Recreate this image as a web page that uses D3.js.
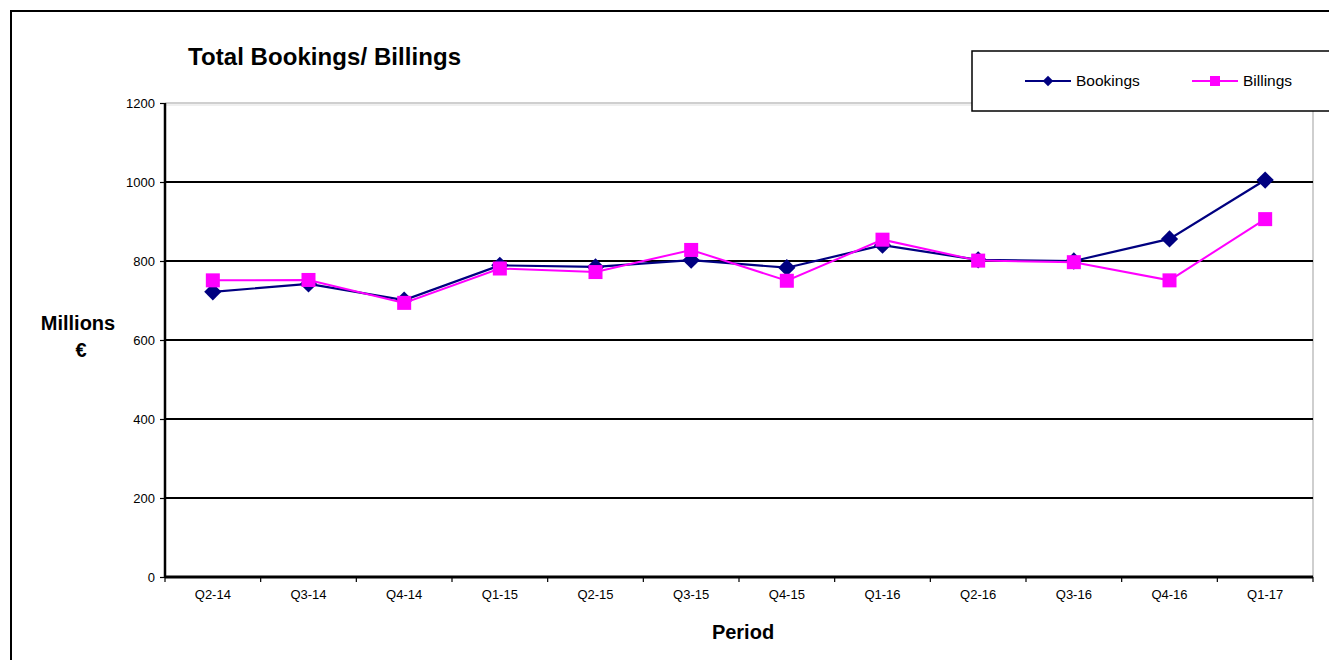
<!DOCTYPE html>
<html>
<head>
<meta charset="utf-8">
<script src="https://cdn.jsdelivr.net/npm/d3@7"></script>
<style>
  body { margin: 0; background: #fff; }
  text { font-family: "Liberation Sans", Arial, sans-serif; }
</style>
</head>
<body>
<script>
// data
var periods = ['Q2-14', 'Q3-14', 'Q4-14', 'Q1-15', 'Q2-15', 'Q3-15', 'Q4-15', 'Q1-16', 'Q2-16', 'Q3-16', 'Q4-16', 'Q1-17']
var bookings = [722, 742, 701, 789, 785, 802, 783, 840, 803, 800, 856, 1005]
var billings = [751, 752, 694, 781, 772, 828, 750, 854, 801, 797, 751, 906]
var yTicks = [0, 200, 400, 600, 800, 1000, 1200]

var W = 1329, H = 660
var margin = { top: 103, right: 16, bottom: 83, left: 165 }
var width = W - margin.left - margin.right,
  height = H - margin.top - margin.bottom

var svg = d3.select('body').append('svg')
  .attr('width', W)
  .attr('height', H)

// outer frame
svg.append('path')
  .attr('d', 'M11,' + H + 'V11H' + W)
  .attr('fill', 'none')
  .attr('stroke', '#000')
  .attr('stroke-width', 2)

var x = d3.scaleBand().domain(periods).range([0, width])
var y = d3.scaleLinear().domain([0, 1200]).range([height, 0])

var g = svg.append('g')
  .attr('transform', 'translate(' + margin.left + ',' + margin.top + ')')

// plot area border (grey top + right)
g.append('path')
  .attr('d', 'M0,0H' + width + 'V' + height)
  .attr('fill', 'none')
  .attr('stroke', '#c0c0c0')
  .attr('stroke-width', 1.5)
g.append('line')
  .attr('x1', 0).attr('x2', width)
  .attr('y1', 2).attr('y2', 2)
  .attr('stroke', '#e0e0e0')

// gridlines
g.selectAll('.grid')
  .data(yTicks.filter(function(d) { return d > 0 && d < 1200 }))
  .enter().append('line')
  .attr('class', 'grid')
  .attr('x1', 0).attr('x2', width)
  .attr('y1', d => y(d)).attr('y2', d => y(d))
  .attr('stroke', '#000')
  .attr('stroke-width', 2)

// y axis
var yAxis = g.append('g')
  .call(d3.axisLeft(y).tickValues(yTicks).tickFormat(d3.format('d')).tickSize(5).tickPadding(5))
yAxis.select('.domain').remove()
yAxis.selectAll('text').attr('fill', '#000')
  .style('font-size', '13px')
  .style('font-family', '"Liberation Sans", Arial, sans-serif')
yAxis.selectAll('line').attr('stroke-width', 1.2)
g.append('line')
  .attr('x1', 0).attr('x2', 0).attr('y1', 0).attr('y2', height)
  .attr('stroke', '#000').attr('stroke-width', 2.5)

// x axis
var xAxis = g.append('g')
  .attr('transform', 'translate(0,' + height + ')')
  .call(d3.axisBottom(x).tickSize(0).tickPadding(13))
xAxis.select('.domain').remove()
xAxis.selectAll('text').attr('fill', '#000')
  .style('font-size', '13px')
  .style('font-family', '"Liberation Sans", Arial, sans-serif')
g.selectAll('.xtick')
  .data(periods.concat(['end']))
  .enter().append('line')
  .attr('class', 'xtick')
  .attr('x1', (d, i) => i * x.step()).attr('x2', (d, i) => i * x.step())
  .attr('y1', height).attr('y2', height + 5)
  .attr('stroke', '#000').attr('stroke-width', 1.2)
g.append('line')
  .attr('x1', 0).attr('x2', width).attr('y1', height).attr('y2', height)
  .attr('stroke', '#000').attr('stroke-width', 3)

var cx = function(d, i) { return x(periods[i]) + x.bandwidth() / 2 }
var line = d3.line().x(cx).y(d => y(d))

// bookings
g.append('path').datum(bookings)
  .attr('d', line)
  .attr('fill', 'none')
  .attr('stroke', '#000080')
  .attr('stroke-width', 2.2)
g.selectAll('.bk')
  .data(bookings).enter().append('path')
  .attr('class', 'bk')
  .attr('d', d3.symbol().type(d3.symbolDiamond2).size(190))
  .attr('transform', (d, i) => 'translate(' + cx(d, i) + ',' + y(d) + ')')
  .attr('fill', '#000080')

// billings
g.append('path').datum(billings)
  .attr('d', line)
  .attr('fill', 'none')
  .attr('stroke', '#ff00ff')
  .attr('stroke-width', 2)
g.selectAll('.bl')
  .data(billings).enter().append('rect')
  .attr('class', 'bl')
  .attr('x', (d, i) => cx(d, i) - 7)
  .attr('y', d => y(d) - 7)
  .attr('width', 14).attr('height', 14)
  .attr('fill', '#ff00ff')

// title and axis labels
svg.append('text')
  .attr('x', 188).attr('y', 65)
  .attr('font-size', 24).attr('font-weight', 'bold')
  .attr('textLength', 273)
  .text('Total Bookings/ Billings')

svg.append('text')
  .attr('x', 78).attr('y', 330)
  .attr('text-anchor', 'middle')
  .attr('font-size', 20).attr('font-weight', 'bold')
  .text('Millions')
svg.append('text')
  .attr('x', 81).attr('y', 357)
  .attr('text-anchor', 'middle')
  .attr('font-size', 20).attr('font-weight', 'bold')
  .text('€')

svg.append('text')
  .attr('x', 743).attr('y', 639)
  .attr('text-anchor', 'middle')
  .attr('font-size', 20).attr('font-weight', 'bold')
  .text('Period')

// legend
svg.append('rect')
  .attr('x', 972).attr('y', 51)
  .attr('width', 380).attr('height', 60)
  .attr('fill', '#fff')
  .attr('stroke', '#000')
  .attr('stroke-width', 1.5)
var legendItems = [
  { name: 'Bookings', color: '#000080', x: 1025, shape: 'diamond' },
  { name: 'Billings', color: '#ff00ff', x: 1192, shape: 'square' }
]
legendItems.forEach(function(it) {
  svg.append('line')
    .attr('x1', it.x).attr('x2', it.x + 46)
    .attr('y1', 81).attr('y2', 81)
    .attr('stroke', it.color).attr('stroke-width', 2)
  if (it.shape === 'diamond') {
    svg.append('path')
      .attr('d', d3.symbol().type(d3.symbolDiamond2).size(70))
      .attr('transform', 'translate(' + (it.x + 23) + ',81)')
      .attr('fill', it.color)
  } else {
    svg.append('rect')
      .attr('x', it.x + 18).attr('y', 76)
      .attr('width', 10).attr('height', 10)
      .attr('fill', it.color)
  }
  svg.append('text')
    .attr('x', it.x + 51).attr('y', 86)
    .attr('font-size', 15.5)
    .text(it.name)
})
</script>
</body>
</html>
